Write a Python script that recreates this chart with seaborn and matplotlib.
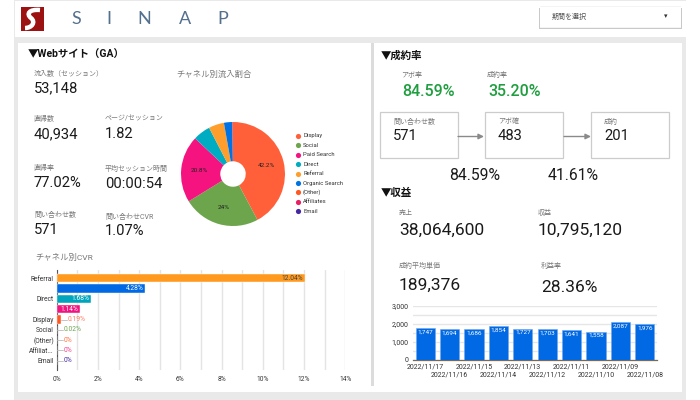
import matplotlib
matplotlib.use("Agg")
import matplotlib.pyplot as plt
from matplotlib.patches import Rectangle, PathPatch
from matplotlib.path import Path
import pandas as pd
import seaborn as sns

W, H = 700, 400

# pie data
channels = ["Display", "Social", "Paid Search", "Direct", "Referral",
            "Organic Search", "(Other)", "Affiliates", "Email"]
share = [42.2, 24, 20.8, 5.4, 4.8, 2.56, 0.14, 0.06, 0.04]
channel_colors = ["#ff6039", "#6ca54b", "#f5147f", "#00acc1", "#ff9e2c",
                  "#0072e3", "#ff5722", "#e91e63", "#4527a0"]

# cvr bars
cvr_channels = ["Referral", "Organic Search", "Direct", "Paid Search", "Display",
                "Social", "(Other)", "Affiliates", "Email"]
cvr_ticks = ["Referral", "", "Direct", "", "Display", "Social", "(Other)", "Affiliat...", "Email"]
cvr_values = [12.04, 4.28, 1.68, 1.14, 0.19, 0.02, 0, 0, 0]
cvr_colors = ["#ff9a1f", "#0069e3", "#00a5bd", "#f0147f", "#ff5722",
              "#6ca54b", "#ff7043", "#f0408a", "#4527a0"]
cvr_label_colors = ["#444444", "white", "white", "white", "#ff7a5c",
                    "#6ca54b", "#ff7043", "#f0408a", "#4527a0"]

# daily bars
dates = ["2022/11/17", "2022/11/16", "2022/11/15", "2022/11/14", "2022/11/13",
         "2022/11/12", "2022/11/11", "2022/11/10", "2022/11/09", "2022/11/08"]
daily = [1747, 1694, 1686, 1854, 1727, 1703, 1641, 1558, 2087, 1976]

# kpi texts: label, value, x, label y, value y
web_kpis = [
    ("流入数（セッション）", "53,148", 34, 74, 88),
    ("直帰数", "40,934", 34, 119, 134),
    ("ページ/セッション", "1.82", 105, 119, 134),
    ("直帰率", "77.02%", 34, 168, 183),
    ("平均セッション時間", "00:00:54", 105, 169, 184),
    ("問い合わせ数", "571", 34, 215, 230),
    ("問い合わせCVR", "1.07%", 105, 217, 231),
]
rate_kpis = [("アボ率", "84.59%", 401, 75, 92), ("成約率", "35.20%", 487, 75, 92)]
funnel_boxes = [(380, "問い合わせ数", "571"), (485, "アボ確", "483"), (591, "成約", "201")]
funnel_rates = [(475, "84.59%"), (573, "41.61%")]
profit_kpis = [
    ("売上", "38,064,600", 399, 213, 230),
    ("収益", "10,795,120", 538, 213, 230),
    ("成約平均単価", "189,376", 399, 266, 285),
    ("利益率", "28.36%", 541, 266, 287),
]

sns.set_theme(style="white")
plt.rcParams["font.family"] = ["Roboto", "Noto Sans CJK JP", "DejaVu Sans"]

fig = plt.figure(figsize=(W / 100, H / 100), dpi=100)


def px_axes(x0, y0, x1, y1):
    # axes box given in picture pixels, y going down
    ax = fig.add_axes([x0 / W, 1 - y1 / H, (x1 - x0) / W, (y1 - y0) / H])
    ax.patch.set_alpha(0)
    return ax


# page background and all the loose text
bg = px_axes(0, 0, W, H)
bg.set_xlim(0, W)
bg.set_ylim(H, 0)
bg.axis("off")


def box(x0, y0, x1, y1, color, **kw):
    bg.add_patch(Rectangle((x0, y0), x1 - x0, y1 - y0, facecolor=color, edgecolor="none", **kw))


def label(x, y, s, size=5, color="#777777", **kw):
    bg.text(x, y, s, fontsize=size, color=color, va="center", **kw)


GRAY = "#e9e9e9"
box(14, 0, 686, 400, GRAY)
box(15, 1, 686, 37, "white")
box(18, 43, 682, 392, "white")
box(371, 43, 374, 386, "#dcdcdc")

# logo
box(21, 7, 44, 31, "#9c1212")
logo_s = Path([(40, 10), (29, 9), (26, 14), (31, 18), (36, 22), (32, 28), (25, 28)],
              [Path.MOVETO, Path.CURVE4, Path.CURVE4, Path.CURVE4, Path.CURVE4, Path.CURVE4, Path.CURVE4])
bg.add_patch(PathPatch(logo_s, facecolor="none", edgecolor="white", lw=3.2))
for lx, ch in zip([76, 109, 144, 185, 223], "SINAP"):
    label(lx, 19.5, ch, size=13, color="#54708f", family="Lato", ha="center")

# date picker
box(539, 8, 682, 29, "#c9c9c9")
box(539.5, 6, 681, 27.5, "#f4f4f4")
box(540, 6.5, 680.5, 27, "white")
label(552, 17, "期間を選択", size=5, color="#555555")
label(666, 17, "▾", size=5, color="#333333", ha="center")

# left panel
label(28, 55, "▼Webサイト（GA）", size=7.5, color="#111111", fontweight="bold")
for name, value, x, ly, vy in web_kpis:
    label(x, ly, name)
    label(x, vy, value, size=10.6, color="#1a1a1a")
label(176, 74, "チャネル別流入割合", size=6)
label(35, 257, "チャネル別CVR", size=6)

# legend
for i, (name, color) in enumerate(zip(channels, channel_colors)):
    ly = 135.7 + i * 9.46
    bg.scatter([297.7], [ly], s=14, color=color, linewidths=0)
    label(303, ly, name, size=4.2, color="#333333")

# right panel
label(381, 56, "▼成約率", size=7.5, color="#111111", fontweight="bold")
label(381, 193, "▼収益", size=7.5, color="#111111", fontweight="bold")
for name, value, x, ly, vy in rate_kpis:
    label(x, ly, name)
    label(x + 1, vy, value, size=11.5, color="#1e9e3e", fontweight="medium")
for x, name, value in funnel_boxes:
    bg.add_patch(Rectangle((x, 112), 78, 46, facecolor="white", edgecolor="#cccccc", lw=0.9))
    label(x + 13, 122, name)
    label(x + 13, 136, value, size=10.6, color="#1a1a1a")
for x0, x1 in [(458, 484), (564, 591)]:
    bg.annotate("", xy=(x1, 136.5), xytext=(x0, 136.5),
                arrowprops=dict(arrowstyle="-|>", color="#8a8a8a", lw=1.0, mutation_scale=8, shrinkA=0, shrinkB=0))
for x, value in funnel_rates:
    label(x, 175, value, size=11.3, color="#1a1a1a", ha="center")
for name, value, x, ly, vy in profit_kpis:
    label(x, ly, name)
    label(x, vy, value, size=12.5, color="#1a1a1a")

# pie
pie_ax = px_axes(181, 122, 285, 226)
pie_ax.pie(share, colors=channel_colors, startangle=90, counterclock=False, radius=1,
           wedgeprops=dict(width=0.755, linewidth=0),
           autopct=lambda p: (f"{p:.1f}".removesuffix(".0") + "%") if p > 10 else "",
           pctdistance=0.66, textprops=dict(fontsize=4.6, color="#222222"))
pie_ax.set_xlim(-1, 1)
pie_ax.set_ylim(-1, 1)

# channel cvr bars
cvr_df = pd.DataFrame({"channel": cvr_channels, "cvr": cvr_values})
cvr_ax = px_axes(56.7, 269.5, 345.3, 369.5)
sns.barplot(data=cvr_df, y="channel", x="cvr", hue="channel", palette=cvr_colors, legend=False,
            dodge=False, width=0.82, saturation=1, edgecolor="white", linewidth=0.3, ax=cvr_ax, zorder=3)
cvr_ax.set_xlim(0, 14)
cvr_ax.set_xticks(range(0, 15, 2), [f"{v}%" for v in range(0, 15, 2)])
cvr_ax.set_xticks(range(1, 15, 2), minor=True)
cvr_ax.set_yticks(range(len(cvr_ticks)), cvr_ticks)
cvr_ax.set_xlabel("")
cvr_ax.set_ylabel("")
cvr_ax.grid(axis="x", which="both", color="#e4e4e4", lw=1.0, zorder=0)
cvr_ax.tick_params(axis="both", which="both", length=0, labelsize=4.8, labelcolor="#333333", pad=2)
cvr_ax.tick_params(axis="x", pad=4.5)
sns.despine(ax=cvr_ax, top=True, right=True, bottom=True)
cvr_ax.spines["left"].set_color("#555555")
cvr_ax.spines["left"].set_linewidth(0.8)
for i, (v, c) in enumerate(zip(cvr_values, cvr_label_colors)):
    s = f"{v:g}%" if v == 0 else f"{v:.2f}%"
    if v > 1:
        cvr_ax.text(v - 0.08, i, s, ha="right", va="center", fontsize=4.8, color=c, zorder=5)
    else:
        cvr_ax.plot([v, v + 0.3], [i, i], color="#bbbbbb", lw=0.6, zorder=4)
        cvr_ax.text(v + 0.32, i, s, ha="left", va="center", fontsize=4.8, color=c, zorder=5)

# daily bars
daily_df = pd.DataFrame({"date": dates, "count": daily})
daily_ax = px_axes(413, 305.7, 657, 359.7)
sns.barplot(data=daily_df, x="date", y="count", color="#0069e3", saturation=1, width=0.79,
            edgecolor="#6ea8f0", linewidth=0.4, ax=daily_ax, zorder=3)
daily_ax.set_ylim(0, 3000)
daily_ax.set_yticks([0, 1000, 2000, 3000], ["0", "1,000", "2,000", "3,000"])
daily_ax.set_yticks([500, 1500, 2500], minor=True)
daily_ax.set_xticks(range(len(dates)), dates)
daily_ax.set_xlabel("")
daily_ax.set_ylabel("")
daily_ax.grid(axis="y", which="both", color="#e6e6e6", lw=1.0, zorder=0)
daily_ax.tick_params(axis="both", which="both", length=0, labelsize=5, labelcolor="#333333", pad=3)
# staggered date labels
for i, tick in enumerate(daily_ax.xaxis.get_major_ticks()):
    tick.set_pad(2.7 if i % 2 == 0 else 8.5)
sns.despine(ax=daily_ax, top=True, right=True, left=True)
daily_ax.spines["bottom"].set_color("#7a6a55")
daily_ax.spines["bottom"].set_linewidth(0.9)
for i, v in enumerate(daily):
    daily_ax.text(i, v - 70, f"{v:,}", ha="center", va="top", fontsize=4.6, color="white", zorder=5)

fig.savefig("out.png", dpi=100)
